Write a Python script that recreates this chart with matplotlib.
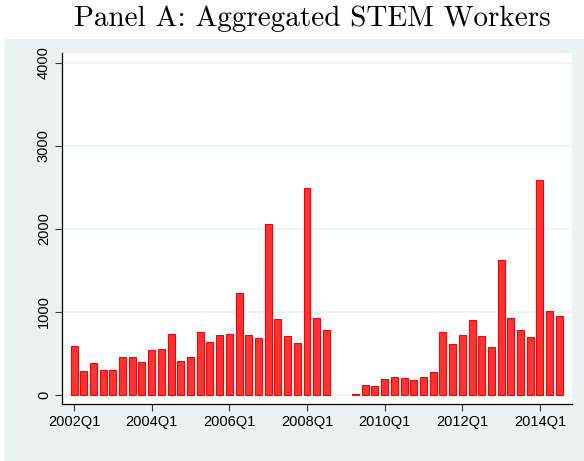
import numpy as np
import matplotlib
matplotlib.use("Agg")
import matplotlib.pyplot as plt
from matplotlib.patches import Rectangle

# quarterly counts, 2002Q1 - 2014Q3 (2008Q4 and 2009Q1 missing)
quarters = [f"{y}Q{q}" for y in range(2002, 2015) for q in range(1, 5)][:51]
workers = [595, 289, 381, 301, 297, 453, 453, 401,
           546, 558, 738, 409, 457, 758, 634, 718,
           730, 1224, 722, 682, 2062, 919, 714, 626,
           2487, 923, 778, np.nan, np.nan, 12, 120, 104,
           193, 221, 205, 181, 221, 273, 758, 610,
           718, 903, 710, 574, 1629, 931, 782, 698,
           2588, 1007, 951]
tick_labels = ["2002Q1", "2004Q1", "2006Q1", "2008Q1", "2010Q1", "2012Q1", "2014Q1"]
y_ticks = [0, 1000, 2000, 3000, 4000]

bg = "#eaf2f3"
W, H = 584, 461

fig = plt.figure(figsize=(W / 100, H / 100), dpi=100, facecolor="white")
fig.patches.append(Rectangle((5 / W, 0), 1, (H - 39) / H, transform=fig.transFigure,
                             facecolor=bg, edgecolor="none", zorder=-10))

ax = fig.add_axes([62 / W, (H - 404) / H, 510 / W, 351 / H])
ax.set_zorder(5)
ax.set_facecolor("white")

x = np.arange(len(quarters))
ax.bar(x, workers, width=0.72, color="#ff3333", edgecolor="#ff0000", linewidth=0.8, zorder=3)

ax.set_xlim(-1.24, 51.3)
ax.set_ylim(-108, 4117)
ax.set_xticks([quarters.index(t) for t in tick_labels])
ax.set_xticklabels(tick_labels, fontsize=10.5, family="Liberation Sans")
ax.set_yticks(y_ticks)
ax.set_yticklabels([str(v) for v in y_ticks], fontsize=10.5, family="Liberation Sans",
                   rotation=90, va="center")
ax.tick_params(axis="both", direction="out", length=5, width=0.8, color="#333333", pad=3)

ax.grid(axis="y", color=bg, linewidth=1.2, zorder=1)
ax.set_axisbelow(True)
for s in ["top", "right"]:
    ax.spines[s].set_visible(False)
for s in ["left", "bottom"]:
    ax.spines[s].set_color("black")
    ax.spines[s].set_linewidth(0.9)

fig.text(312 / W, 1 - 19 / H, "Panel A: Aggregated STEM Workers", family="cmr10",
         fontsize=21, ha="center", va="center")

fig.savefig("out.png", dpi=100, facecolor="white")
